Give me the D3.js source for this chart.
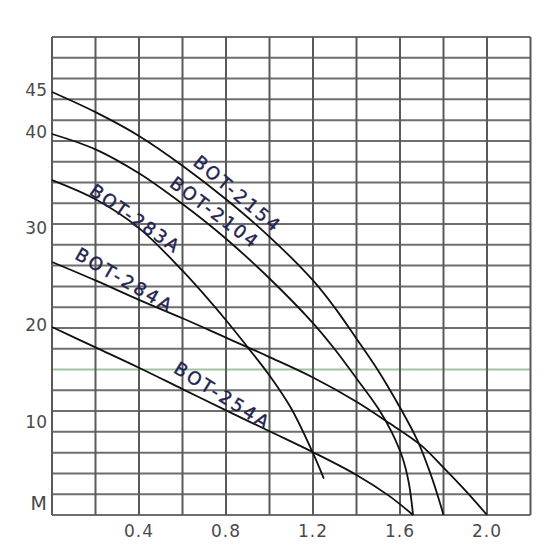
<!DOCTYPE html>
<html><head><meta charset="utf-8">
<script src="https://cdn.jsdelivr.net/npm/d3@7"></script>
<style>body{margin:0;background:#fff}</style>
</head><body>
<svg id="chart" width="560" height="560"></svg>
<script>
// ---- data (flow in units, head in M) ----
const seriesNames = ["BOT-2154", "BOT-2104", "BOT-283A", "BOT-284A", "BOT-254A"];
const bot2154 = [[0,45],[0.2,42.6],[0.4,39.8],[0.6,36.7],[0.8,33.2],[1.0,29.3],[1.2,24.8],[1.3,22.0],[1.4,18.8],[1.5,15.5],[1.6,11.7],[1.68,8.2],[1.73,5.2],[1.77,2.4],[1.8,0]];
const bot2104 = [[0,40],[0.2,38.4],[0.4,35.9],[0.6,32.7],[0.8,29.1],[1.0,25.0],[1.2,20.4],[1.3,17.7],[1.4,14.7],[1.5,11.6],[1.56,9.2],[1.61,6.4],[1.64,3.6],[1.66,0]];
const bot283A = [[0,35.2],[0.2,33.2],[0.4,30.2],[0.6,25.8],[0.8,20.7],[0.9,17.9],[1.0,15.0],[1.1,11.6],[1.2,6.8],[1.25,4.0]];
const bot284A = [[0,26.7],[0.2,24.8],[0.4,22.8],[0.6,20.9],[0.8,18.9],[1.0,16.9],[1.2,14.8],[1.4,12.3],[1.55,10.1],[1.7,7.6],[1.8,5.2],[1.9,2.7],[2.0,0]];
const bot254A = [[0,20],[0.2,17.9],[0.4,15.8],[0.6,13.6],[0.8,11.4],[1.0,9.2],[1.2,6.9],[1.4,4.4],[1.55,2.1],[1.66,0]];
const seriesValues = [bot2154, bot2104, bot283A, bot284A, bot254A];
const xTickValues = [0.4, 0.8, 1.2, 1.6, 2.0];
const yTickValues = [10, 20, 30, 40, 45];
const yUnitLabel = "M";

// ---- layout ----
const svg = d3.select("#chart");
const mLeft = 52, mRight = 530.5, mTop = 37, mBottom = 515;
const x = d3.scaleLinear().domain([0, 2.2]).range([mLeft, mRight]);
const y = d3.scaleLinear().domain([0, 10, 20, 30, 40, 45, 51.5]).range([515, 424, 327, 230, 134, 92, 37]);
const gridRows = d3.scaleLinear().domain([0, 23]).range([mBottom, mTop]);

svg.append("rect").attr("width", 560).attr("height", 560).attr("fill", "#fff");

// horizontal grid lines
svg.append("g").selectAll("line").data(d3.range(24)).join("line")
  .attr("x1", mLeft).attr("x2", mRight)
  .attr("y1", d => gridRows(d)).attr("y2", d => gridRows(d))
  .attr("stroke", d => d === 7 ? "#9fc39f" : "#6e6e6e")
  .attr("stroke-width", 2);

// vertical grid lines
svg.append("g").selectAll("line").data(d3.range(0, 12).map(i => i * 0.2)).join("line")
  .attr("x1", d => x(d)).attr("x2", d => x(d))
  .attr("y1", mTop).attr("y2", mBottom)
  .attr("stroke", "#5a5a5a")
  .attr("stroke-width", 2);

// tick labels
const tickFont = "'DejaVu Sans', sans-serif";
svg.append("g").selectAll("text").data(xTickValues).join("text")
  .attr("x", d => x(d)).attr("y", mBottom + 16)
  .attr("text-anchor", "middle").attr("dominant-baseline", "central")
  .attr("font-family", tickFont).attr("font-size", 17).attr("letter-spacing", 1)
  .attr("fill", "#4a4a4a")
  .text(d => d3.format(".1f")(d));

svg.append("g").selectAll("text").data(yTickValues).join("text")
  .attr("x", mLeft - 5).attr("y", d => y(d) - 2)
  .attr("text-anchor", "end").attr("dominant-baseline", "central")
  .attr("font-family", tickFont).attr("font-size", 17)
  .attr("fill", "#4a4a4a")
  .text(d => d);

svg.append("text")
  .attr("x", mLeft - 5).attr("y", y(0) - 12)
  .attr("text-anchor", "end").attr("dominant-baseline", "central")
  .attr("font-family", tickFont).attr("font-size", 19)
  .attr("fill", "#4a4a4a")
  .text(yUnitLabel);

// curves
const line = d3.line().x(d => x(d[0])).y(d => y(d[1])).curve(d3.curveCatmullRom.alpha(0.5));
svg.append("g").selectAll("path").data(seriesValues).join("path")
  .attr("d", line)
  .attr("fill", "none").attr("stroke", "#111").attr("stroke-width", 1.8);

// series labels (position in chart units, angle in degrees)
const labelPlacement = [
  {x: 0.85, y: 33.85, angle: 40, len: 106},
  {x: 0.745, y: 31.9, angle: 37, len: 104},
  {x: 0.38, y: 31.25, angle: 35, len: 104},
  {x: 0.33, y: 24.9, angle: 30, len: 108},
  {x: 0.78, y: 13.0, angle: 32, len: 108}
];
svg.append("g").selectAll("text").data(seriesNames).join("text")
  .attr("transform", (d, i) => `translate(${x(labelPlacement[i].x)},${y(labelPlacement[i].y)}) rotate(${labelPlacement[i].angle})`)
  .attr("text-anchor", "middle").attr("dominant-baseline", "central")
  .attr("font-family", tickFont).attr("font-size", 18)
  .attr("textLength", (d, i) => labelPlacement[i].len).attr("lengthAdjust", "spacing")
  .attr("fill", "#24244f").attr("stroke", "#24244f").attr("stroke-width", 0.4)
  .text(d => d);
</script>
</body></html>
